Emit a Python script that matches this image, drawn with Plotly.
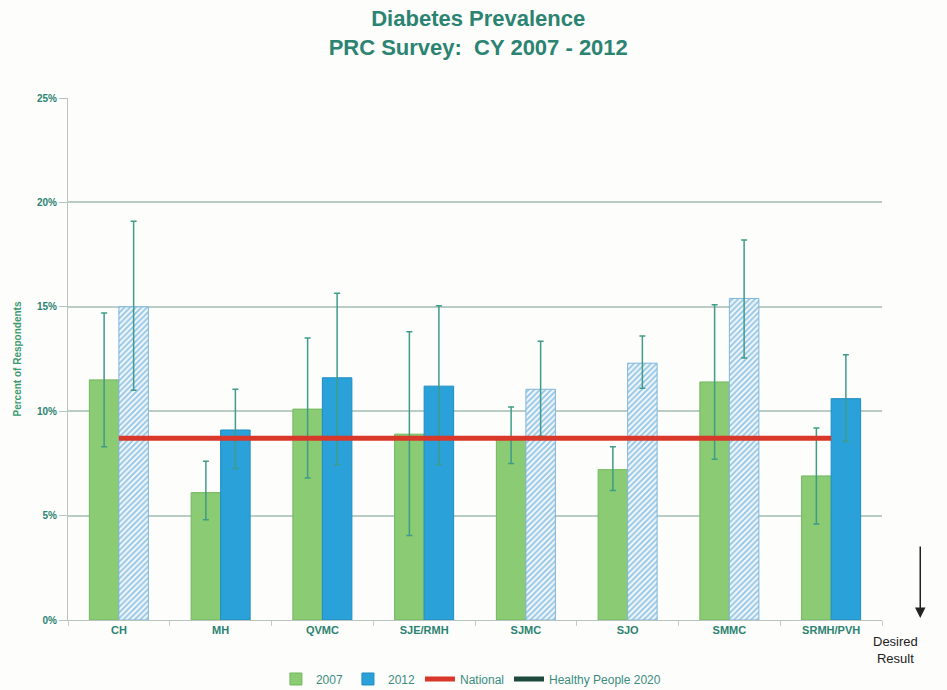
import plotly.graph_objects as go

categories = ["CH", "MH", "QVMC", "SJE/RMH", "SJMC", "SJO", "SMMC", "SRMH/PVH"]

v2007 = [11.5, 6.1, 10.1, 8.9, 8.7, 7.2, 11.4, 6.9]
lo2007 = [8.3, 4.8, 6.8, 4.05, 7.5, 6.2, 7.7, 4.6]
hi2007 = [14.7, 7.6, 13.5, 13.8, 10.2, 8.3, 15.1, 9.2]

v2012 = [15.0, 9.1, 11.6, 11.2, 11.05, 12.3, 15.4, 10.6]
lo2012 = [11.0, 7.25, 7.45, 7.45, 8.8, 11.1, 12.55, 8.55]
hi2012 = [19.1, 11.05, 15.65, 15.05, 13.35, 13.6, 18.2, 12.7]
hatched2012 = [True, False, False, False, True, True, True, False]

national = 8.7
national_span = ["CH", "SRMH/PVH"]

y_ticks = [0, 5, 10, 15, 20, 25]
y_tick_text = ["0%", "5%", "10%", "15%", "20%", "25%"]

teal = "#2b8371"
err_col = "#3f9c88"
green = "#8acb74"
blue = "#2aa1d9"
hatch_line = "#3f96cf"


def pick(values, mask):
    return [v if m else None for v, m in zip(values, mask)]


fig = go.Figure()

fig.add_trace(go.Bar(
    x=categories, y=v2007, name="2007", offsetgroup="a",
    marker=dict(color=green, line=dict(color="#72b85d", width=1)),
    error_y=dict(type="data", symmetric=False,
                 array=[h - v for h, v in zip(hi2007, v2007)],
                 arrayminus=[v - l for l, v in zip(lo2007, v2007)],
                 color=err_col, thickness=1.5, width=3),
))

solid = [not h for h in hatched2012]
up2012 = [h - v for h, v in zip(hi2012, v2012)]
dn2012 = [v - l for l, v in zip(lo2012, v2012)]

fig.add_trace(go.Bar(
    x=categories, y=pick(v2012, solid), name="2012", offsetgroup="b",
    marker=dict(color=blue, line=dict(color="#1f8cc2", width=1)),
    error_y=dict(type="data", symmetric=False,
                 array=pick(up2012, solid), arrayminus=pick(dn2012, solid),
                 color=err_col, thickness=1.5, width=3),
))

fig.add_trace(go.Bar(
    x=categories, y=pick(v2012, hatched2012), name="2012 (hatched)", offsetgroup="b",
    showlegend=False,
    marker=dict(color="white", line=dict(color="#7fb6dc", width=1),
                pattern=dict(shape="/", fgcolor=hatch_line, bgcolor="#f4f9fc",
                             size=4, solidity=0.5)),
    error_y=dict(type="data", symmetric=False,
                 array=pick(up2012, hatched2012), arrayminus=pick(dn2012, hatched2012),
                 color=err_col, thickness=1.5, width=3),
))

fig.add_trace(go.Scatter(
    x=national_span, y=[national, national], name="National",
    mode="lines", line=dict(color="#d8372a", width=5),
))

fig.add_trace(go.Scatter(
    x=["CH"], y=[None], name="Healthy People 2020",
    mode="lines", line=dict(color="#1d4a3c", width=5),
))

fig.update_layout(
    width=947, height=690,
    paper_bgcolor="#fdfdfb", plot_bgcolor="#fdfdfb",
    margin=dict(l=68, r=65, t=98, b=70, autoexpand=False),
    barmode="group", bargap=0.42, bargroupgap=0,
    font=dict(family="Liberation Sans, Arial, sans-serif", color=teal),
    title=dict(
        text="<b>Diabetes Prevalence<br>PRC Survey:  CY 2007 - 2012</b>",
        x=0.505, xanchor="center", y=0.962, yanchor="top",
        font=dict(size=22, color=teal),
    ),
    showlegend=True,
    legend=dict(orientation="h", x=0.495, xanchor="center", y=-0.113, yanchor="middle",
                font=dict(size=12, color="#3a8c80"), bgcolor="rgba(0,0,0,0)",
                traceorder="normal", itemwidth=30),
    xaxis=dict(
        type="category", showgrid=False, showline=True, linecolor="#b9c4bf",
        ticks="outside", tickson="boundaries", ticklen=5, tickcolor="#c5cdca",
        tickfont=dict(size=11, color=teal), automargin=False,
        tickprefix="<b>", ticksuffix="</b>",
    ),
    yaxis=dict(
        range=[0, 25], tickvals=y_ticks, ticktext=["<b>" + t + "</b>" for t in y_tick_text],
        showgrid=True, gridcolor="#b9cdc6", gridwidth=1.5, automargin=False,
        showline=True, linecolor="#b9c4bf", ticks="outside", ticklen=8, tickcolor="#b9c4bf",
        tickfont=dict(size=10, color=teal), zeroline=False,
        title=dict(text="<b>Percent of Respondents</b>", font=dict(size=10, color="#3a9a70"), standoff=13),
    ),
)

fig.add_annotation(
    x=1.047, y=0.004, xref="paper", yref="paper",
    ax=0, ay=-73, axref="pixel", ayref="pixel",
    showarrow=True, arrowhead=2, arrowsize=1.4, arrowwidth=1.5, arrowcolor="#222222", text="",
)
fig.add_annotation(
    x=1.047, y=-0.0575, xref="paper", yref="paper", showarrow=False,
    text="Desired<br>Result", font=dict(size=13, color="#222222"), align="center",
    yanchor="middle",
)

fig.write_html("out.html", config={"displayModeBar": False},
               post_script="document.body.style.margin='0';document.body.style.overflow='hidden';")
